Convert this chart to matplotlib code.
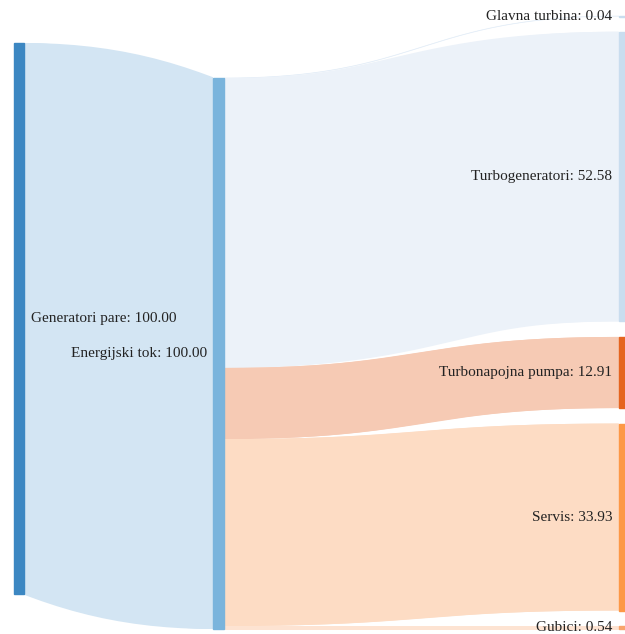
import numpy as np
import matplotlib
matplotlib.use("Agg")
import matplotlib.pyplot as plt
from matplotlib.patches import Rectangle, Polygon

# ---- data ----
source_label = "Generatori pare"
hub_label = "Energijski tok"
targets = ["Glavna turbina", "Turbogeneratori", "Turbonapojna pumpa", "Servis", "Gubici"]
target_values = [0.04, 52.58, 12.91, 33.93, 0.54]
total_value = 100.00

# ---- style ----
node_colors = ["#3c87c2", "#7ab4dc"]
target_node_colors = ["#c9ddef", "#c9ddef", "#e5641f", "#fd9846", "#f8a46c"]
link_main_color = "#d3e5f3"
target_link_colors = ["#e3edf7", "#ecf2f9", "#f6cab4", "#fddcc4", "#fde3d2"]

W, H = 625, 634
DPI = 100
fig = plt.figure(figsize=(W / DPI, H / DPI), dpi=DPI)
ax = fig.add_axes([0, 0, 1, 1])
ax.set_xlim(0, W)
ax.set_ylim(H, 0)
ax.axis("off")

k = 5.51          # pixels per unit
col_x = [14, 213, 619]
node_w = [10, 11, 11]
top1 = 43
top2 = 78
top3 = 16
pad = 15.5


def bez(x0, y0, x1, y1, n=200):
    t = np.linspace(0, 1, n)
    xm = (x0 + x1) / 2
    xs = (1 - t) ** 3 * x0 + 3 * (1 - t) ** 2 * t * xm + 3 * (1 - t) * t ** 2 * xm + t ** 3 * x1
    ys = (1 - t) ** 3 * y0 + 3 * (1 - t) ** 2 * t * y0 + 3 * (1 - t) * t ** 2 * y1 + t ** 3 * y1
    return xs, ys


def link(x0, y0, x1, y1, h, color):
    """d3-style link: bezier centre line stroked with width h (pixels)."""
    clip = Rectangle((x0, -1000), x1 - x0, 3000, transform=ax.transData)
    xt, yt = bez(x0, y0 - h / 2, x1, y1 - h / 2)
    xb, yb = bez(x0, y0 + h / 2, x1, y1 + h / 2)
    pts = np.vstack([np.column_stack([xt, yt]), np.column_stack([xb[::-1], yb[::-1]])])
    poly = Polygon(pts, closed=True, facecolor=color, edgecolor="none", zorder=1)
    ax.add_patch(poly)
    poly.set_clip_path(clip)
    xs, ys = bez(x0, y0, x1, y1)
    ln, = ax.plot(xs, ys, color=color, linewidth=max(h, 0.8) * 72 / DPI,
                  solid_capstyle="butt", solid_joinstyle="miter", zorder=1)
    ln.set_clip_path(clip)


h_total = total_value * k

# link source -> hub
link(col_x[0] + node_w[0], top1 + h_total / 2, col_x[1], top2 + h_total / 2, h_total, link_main_color)

# links hub -> targets
y_hub = top2
y_t = top3
target_tops = []
for name, v, c in zip(targets, target_values, target_link_colors):
    h = v * k
    link(col_x[1] + node_w[1], y_hub + h / 2, col_x[2], y_t + h / 2, h, c)
    target_tops.append(y_t)
    y_hub += h
    y_t += h + pad

# nodes
ax.add_patch(Rectangle((col_x[0], top1), node_w[0], h_total, color=node_colors[0], zorder=3))
ax.add_patch(Rectangle((col_x[1], top2), node_w[1], h_total, color=node_colors[1], zorder=3))
for yt, v, c in zip(target_tops, target_values, target_node_colors):
    ax.add_patch(Rectangle((col_x[2], yt), node_w[2], max(v * k, 0.5), color=c, zorder=3))

font = dict(family="Liberation Serif", fontsize=11, color="#222222", zorder=5)
ax.text(col_x[0] + node_w[0] + 7, top1 + h_total / 2, f"{source_label}: {total_value:.2f}",
        ha="left", va="center", **font)
ax.text(col_x[1] - 6, top2 + h_total / 2, f"{hub_label}: {total_value:.2f}",
        ha="right", va="center", **font)
for name, yt, v in zip(targets, target_tops, target_values):
    ax.text(col_x[2] - 7, yt + v * k / 2, f"{name}: {v:.2f}", ha="right", va="center", **font)

fig.savefig("out.png", dpi=DPI)
